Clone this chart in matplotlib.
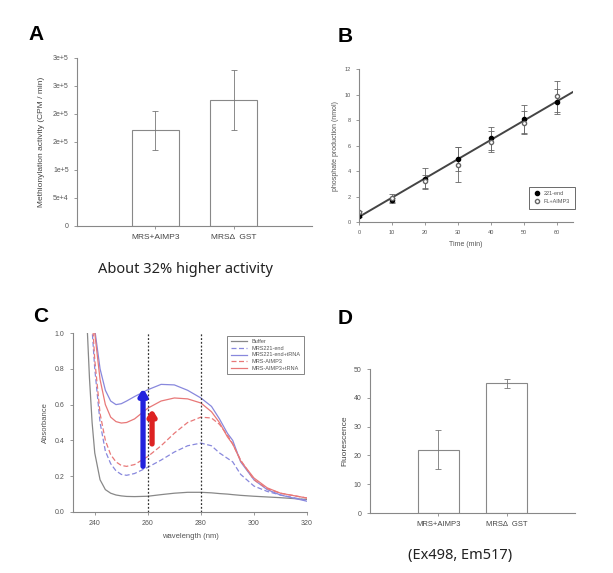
import numpy as np
import matplotlib
matplotlib.use("Agg")
import matplotlib.pyplot as plt
from matplotlib.lines import Line2D
from matplotlib.patches import FancyArrowPatch

plt.rcParams['font.family'] = ['Liberation Sans', 'DejaVu Sans']

# Panel A: methionylation activity
a_groups = ['MRS+AIMP3', 'MRSΔ  GST']
a_values = [1.71e5, 2.25e5]
a_errors = [0.35e5, 0.54e5]
a_ticks = [0, 5e4, 1e5, 1.5e5, 2e5, 2.5e5, 3e5]
a_ticklabels = ['0', '5e+4', '1e+5', '2e+5', '2e+5', '3e+5', '3e+5']

# Panel B: phosphate production over time
b_time = [0, 10, 20, 30, 40, 50, 60]
b_221 = [0.5, 1.7, 3.4, 4.95, 6.55, 8.05, 9.45]
b_221_err = [0.1, 0.2, 0.8, 0.95, 0.9, 1.1, 1.0]
b_fl = [0.75, 1.9, 3.2, 4.5, 6.3, 7.8, 9.85]
b_fl_err = [0.1, 0.3, 0.5, 1.4, 0.8, 0.9, 1.2]
b_fit_x = [0, 65]
b_fit_y = [0.4, 10.2]

# Panel C: absorbance spectra
c_wl = [236, 237, 238, 239, 240, 242, 244, 246, 248, 250, 252, 255, 260,
        265, 270, 275, 280, 284, 287, 290, 292, 295, 300, 305, 310, 320]
c_buffer = [1.5, 1.08, 0.75, 0.5, 0.33, 0.18, 0.125, 0.105, 0.095, 0.09, 0.087, 0.086, 0.088,
            0.097, 0.105, 0.11, 0.11, 0.107, 0.103, 0.1, 0.097, 0.093, 0.088, 0.084, 0.08, 0.07]
c_221 = [2.5, 1.9, 1.3, 1.02, 0.8, 0.5, 0.34, 0.27, 0.23, 0.21, 0.205, 0.215, 0.25,
         0.29, 0.335, 0.37, 0.385, 0.37, 0.33, 0.30, 0.28, 0.21, 0.145, 0.115, 0.095, 0.065]
c_221_trna = [2.8, 2.2, 1.6, 1.25, 1.02, 0.8, 0.68, 0.62, 0.6, 0.605, 0.62, 0.645, 0.683,
              0.713, 0.71, 0.68, 0.637, 0.59, 0.52, 0.44, 0.40, 0.28, 0.18, 0.125, 0.095, 0.06]
c_aimp3 = [2.6, 2.0, 1.4, 1.1, 0.85, 0.55, 0.4, 0.32, 0.28, 0.26, 0.255, 0.265, 0.31,
           0.37, 0.44, 0.5, 0.53, 0.525, 0.49, 0.43, 0.38, 0.29, 0.18, 0.13, 0.105, 0.078]
c_aimp3_trna = [2.8, 2.2, 1.6, 1.25, 1.0, 0.74, 0.6, 0.53, 0.505, 0.497, 0.5, 0.52, 0.58,
                0.62, 0.637, 0.632, 0.609, 0.56, 0.5, 0.42, 0.38, 0.285, 0.19, 0.135, 0.105, 0.078]
c_vlines = [260, 280]
c_blue_arrow = (258.2, 0.255, 0.69)
c_red_arrow = (261.6, 0.38, 0.575)

# Panel D: fluorescence
d_groups = ['MRS+AIMP3', 'MRSΔ  GST']
d_values = [22, 45]
d_errors = [6.8, 1.6]

W, H = 613, 573
GREY = '#555555'


def rect(l, t, r, b):
    return [l / W, 1 - b / H, (r - l) / W, (b - t) / H]


def style(ax, size=5):
    for s in ['top', 'right']:
        ax.spines[s].set_visible(False)
    for s in ['left', 'bottom']:
        ax.spines[s].set_color('#888888')
        ax.spines[s].set_linewidth(0.8)
    ax.tick_params(colors='#888888', labelcolor=GREY, labelsize=size, length=2.5, width=0.6)


fig = plt.figure(figsize=(W / 100, H / 100), dpi=100)

# ---- A
ax = fig.add_axes(rect(77, 58, 312, 226))
style(ax)
xa = np.arange(1, len(a_groups) + 1)
ax.bar(xa, a_values, width=0.6, color='white', edgecolor='#888888', linewidth=0.8)
ax.errorbar(xa, a_values, yerr=a_errors, fmt='none', ecolor='#777777', elinewidth=0.6,
            capsize=2.5, capthick=0.6)
ax.set_xlim(0, 3)
ax.set_ylim(0, 3e5)
ax.set_yticks(a_ticks)
ax.set_yticklabels(a_ticklabels)
ax.set_xticks(xa)
ax.set_xticklabels(a_groups, fontsize=6, color='#444444')
ax.set_ylabel('Methionylation activity (CPM / min)', fontsize=6, color='#444444', labelpad=6)
fig.text(28 / W, 1 - 35 / H, 'A', fontsize=15, fontweight='bold', va='center')
fig.text(185 / W, 1 - 270 / H, 'About 32% higher activity', fontsize=10.5, ha='center',
         va='center', family=['Noto Sans', 'DejaVu Sans'], color='#222222')

# ---- B
ax = fig.add_axes(rect(359, 69, 573, 222))
style(ax, size=4)
ax.plot(b_fit_x, b_fit_y, color='#444444', lw=1.4)
ax.errorbar(b_time, b_221, yerr=b_221_err, fmt='o', color='black', ms=3, ecolor='#666666',
            elinewidth=0.6, capsize=2, capthick=0.6)
ax.errorbar(b_time, b_fl, yerr=b_fl_err, fmt='o', mfc='white', mec='#666666', ms=3,
            ecolor='#666666', elinewidth=0.6, capsize=2, capthick=0.6)
ax.set_xlim(0, 65)
ax.set_ylim(0, 12)
ax.set_xticks(range(0, 61, 10))
ax.set_yticks(range(0, 13, 2))
ax.set_xlabel('Time (min)', fontsize=5, color=GREY)
ax.set_ylabel('phosphate production (nmol)', fontsize=5, color=GREY)
handles = [Line2D([], [], ls='none', marker='o', color='black', ms=3),
           Line2D([], [], ls='none', marker='o', mfc='white', mec='#666666', ms=3)]
leg = ax.legend(handles, ['221-end', 'FL+AIMP3'], loc='lower right',
                bbox_to_anchor=(1.02, 0.07), fontsize=4, frameon=True,
                fancybox=False, edgecolor='#444444', handletextpad=0.6, borderpad=0.8,
                labelspacing=0.5, handlelength=1.2)
leg.get_frame().set_linewidth(0.7)
for t in leg.get_texts():
    t.set_color(GREY)
fig.text(338 / W, 1 - 37 / H, 'B', fontsize=15, fontweight='bold', va='center')

# ---- C
ax = fig.add_axes(rect(73, 333, 307, 512))
style(ax, size=5)
ax.plot(c_wl, c_buffer, color='#888888', lw=0.9, label='Buffer')
ax.plot(c_wl, c_221, color='#8888dd', lw=0.9, ls=(0, (4, 2)), label='MRS221-end')
ax.plot(c_wl, c_221_trna, color='#8888dd', lw=0.9, label='MRS221-end+tRNA')
ax.plot(c_wl, c_aimp3, color='#e87878', lw=0.9, ls=(0, (4, 2)), label='MRS-AIMP3')
ax.plot(c_wl, c_aimp3_trna, color='#e87878', lw=0.9, label='MRS-AIMP3+tRNA')
for v in c_vlines:
    ax.axvline(v, color='#333333', lw=0.9, ls=(0, (1.5, 1.5)), zorder=2)
for (xv, y0, y1), col in [(c_blue_arrow, '#2222dd'), (c_red_arrow, '#dd2222')]:
    ax.add_patch(FancyArrowPatch((xv, y0), (xv, y1),
                                 arrowstyle='-|>,head_width=0.22,head_length=0.35',
                                 color=col, lw=3.8, mutation_scale=10,
                                 shrinkA=0, shrinkB=0, zorder=6))
ax.set_xlim(231.8, 320)
ax.set_ylim(0, 1.0)
ax.set_xticks(range(240, 321, 20))
ax.set_yticks(np.arange(0, 1.01, 0.2))
ax.yaxis.set_major_formatter(matplotlib.ticker.FormatStrFormatter('%.1f'))
ax.set_xlabel('wavelength (nm)', fontsize=5.5, color=GREY)
ax.set_ylabel('Absorbance', fontsize=5.5, color=GREY)
leg = ax.legend(loc='upper right', bbox_to_anchor=(1.0, 1.0), fontsize=4, frameon=True,
                fancybox=False, edgecolor='#666666', handlelength=3, borderpad=0.6,
                labelspacing=0.3)
leg.get_frame().set_linewidth(0.7)
for t in leg.get_texts():
    t.set_color(GREY)
fig.text(33 / W, 1 - 317 / H, 'C', fontsize=15, fontweight='bold', va='center')

# ---- D
ax = fig.add_axes(rect(370, 369, 575, 513))
style(ax)
xd = np.arange(1, len(d_groups) + 1)
ax.bar(xd, d_values, width=0.6, color='white', edgecolor='#888888', linewidth=0.8)
ax.errorbar(xd, d_values, yerr=d_errors, fmt='none', ecolor='#777777', elinewidth=0.6,
            capsize=2.5, capthick=0.6)
ax.set_xlim(0, 3)
ax.set_ylim(0, 50)
ax.set_yticks(range(0, 51, 10))
ax.set_xticks(xd)
ax.set_xticklabels(d_groups, fontsize=5.5, color='#444444')
ax.set_ylabel('Fluorescence', fontsize=6, color='#444444')
fig.text(338 / W, 1 - 318 / H, 'D', fontsize=15, fontweight='bold', va='center')
fig.text(460 / W, 1 - 555 / H, '(Ex498, Em517)', fontsize=10.5, ha='center', va='center',
         family=['Noto Sans', 'DejaVu Sans'], color='#222222')

fig.savefig('out.png', dpi=100)
